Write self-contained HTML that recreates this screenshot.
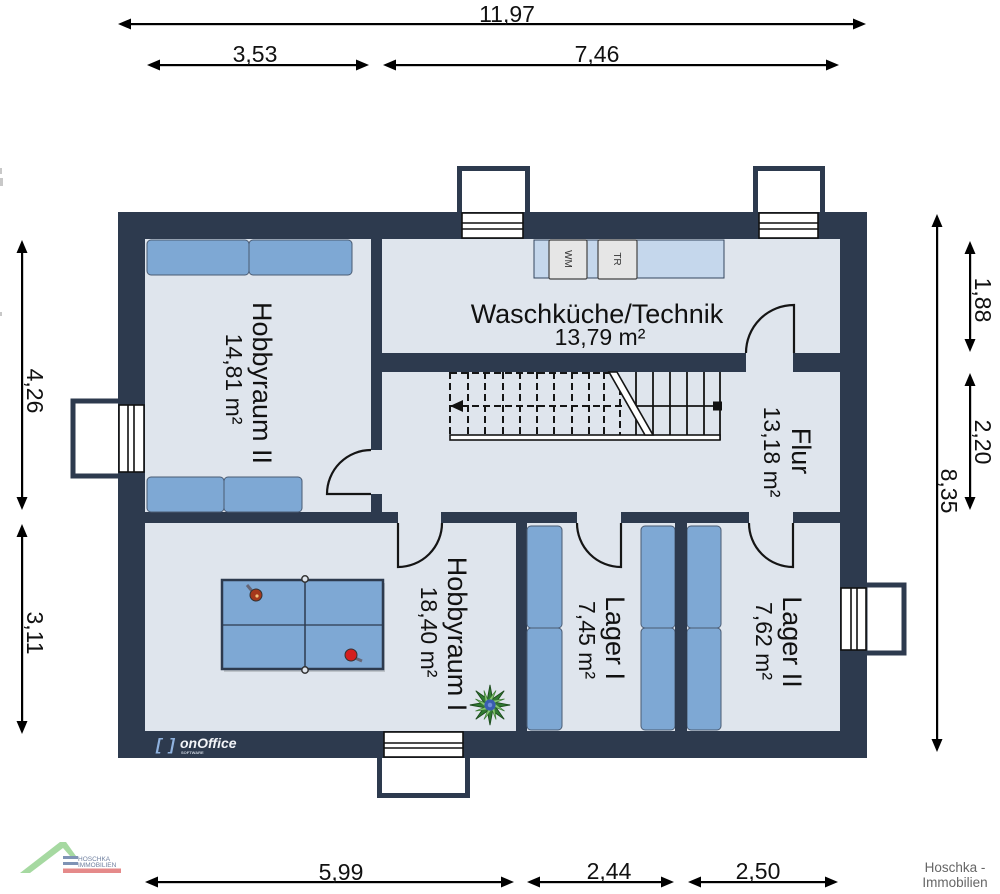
<!DOCTYPE html>
<html><head><meta charset="utf-8"><style>
html,body{margin:0;padding:0;background:#fff;}
svg{display:block;}
text{font-family:"Liberation Sans",Arial,sans-serif;}
</style></head><body>
<svg width="1000" height="894" viewBox="0 0 1000 894" xmlns="http://www.w3.org/2000/svg">

<!-- faint cut-off marks at left edge -->
<g fill="#c8c8c8">
  <rect x="0" y="168" width="2" height="6"/>
  <rect x="0" y="178" width="3" height="8"/>
  <rect x="0" y="312" width="2" height="4"/>
</g>

<!-- ===== Dimension lines ===== -->
<g fill="#000" stroke="none">
  <rect x="128" y="23" width="728" height="2.2"/>
  <polygon points="118,24 131,18.5 131,29.5"/><polygon points="866,24 853,18.5 853,29.5"/>
  <rect x="157" y="64" width="202" height="2.2"/>
  <polygon points="147,65 160,59.5 160,70.5"/><polygon points="369,65 356,59.5 356,70.5"/>
  <rect x="393" y="64" width="436" height="2.2"/>
  <polygon points="383,65 396,59.5 396,70.5"/><polygon points="839,65 826,59.5 826,70.5"/>
  <rect x="155" y="881" width="349" height="2.2"/>
  <polygon points="145,882 158,876.5 158,887.5"/><polygon points="514,882 501,876.5 501,887.5"/>
  <rect x="537" y="881" width="127" height="2.2"/>
  <polygon points="527,882 540,876.5 540,887.5"/><polygon points="674,882 661,876.5 661,887.5"/>
  <rect x="698" y="881" width="130" height="2.2"/>
  <polygon points="688,882 701,876.5 701,887.5"/><polygon points="838,882 825,876.5 825,887.5"/>
  <rect x="21" y="250" width="2.2" height="250"/>
  <polygon points="22,240 16.5,253 27.5,253"/><polygon points="22,510 16.5,497 27.5,497"/>
  <rect x="21" y="534" width="2.2" height="190"/>
  <polygon points="22,524 16.5,537 27.5,537"/><polygon points="22,734 16.5,721 27.5,721"/>
  <rect x="936" y="224" width="2.2" height="518"/>
  <polygon points="937,214 931.5,227 942.5,227"/><polygon points="937,752 931.5,739 942.5,739"/>
  <rect x="969" y="251" width="2.2" height="91"/>
  <polygon points="970,241 964.5,254 975.5,254"/><polygon points="970,352 964.5,339 975.5,339"/>
  <rect x="969" y="383" width="2.2" height="117"/>
  <polygon points="970,373 964.5,386 975.5,386"/><polygon points="970,510 964.5,497 975.5,497"/>
</g>
<g font-size="23" fill="#111" text-anchor="middle">
  <text x="507" y="22">11,97</text>
  <text x="255" y="62">3,53</text>
  <text x="597" y="62">7,46</text>
  <text x="341" y="880">5,99</text>
  <text x="609" y="879">2,44</text>
  <text x="758" y="879">2,50</text>
  <text transform="translate(27,391) rotate(90)">4,26</text>
  <text transform="translate(27,633) rotate(90)">3,11</text>
  <text transform="translate(941,491) rotate(90)">8,35</text>
  <text transform="translate(975,300) rotate(90)">1,88</text>
  <text transform="translate(975,442) rotate(90)">2,20</text>
</g>

<!-- ===== Outside window boxes ===== -->
<g fill="#fff" stroke="#2d3a4e" stroke-width="5">
  <rect x="459.5" y="168.5" width="68" height="46"/>
  <rect x="755.5" y="168.5" width="67" height="46"/>
  <rect x="73" y="401" width="48" height="75"/>
  <rect x="865" y="585" width="39" height="68"/>
  <rect x="379.5" y="755" width="88" height="40.5"/>
</g>

<!-- ===== Building walls ===== -->
<rect x="118" y="212" width="749" height="546" fill="#2d3a4e"/>

<!-- floors -->
<g fill="#dfe5ed">
  <rect x="145" y="239" width="226" height="273"/>
  <rect x="382" y="239" width="458" height="114"/>
  <rect x="382" y="372" width="458" height="140"/>
  <rect x="746" y="352" width="47" height="21"/>
  <rect x="370" y="450" width="13" height="44"/>
  <rect x="145" y="523" width="371" height="208"/>
  <rect x="398" y="511" width="43" height="13"/>
  <rect x="527" y="523" width="148" height="208"/>
  <rect x="577" y="511" width="44" height="13"/>
  <rect x="687" y="523" width="153" height="208"/>
  <rect x="749" y="511" width="44" height="13"/>
</g>

<!-- in-wall windows -->
<g fill="#fff" stroke="#111" stroke-width="1.6">
  <rect x="462" y="213" width="61" height="25"/>
  <line x1="462" y1="223" x2="523" y2="223"/><line x1="462" y1="229" x2="523" y2="229"/>
  <rect x="759" y="213" width="59" height="25"/>
  <line x1="759" y1="223" x2="818" y2="223"/><line x1="759" y1="229" x2="818" y2="229"/>
  <rect x="119" y="405" width="25" height="67"/>
  <line x1="128" y1="405" x2="128" y2="472"/><line x1="134" y1="405" x2="134" y2="472"/>
  <rect x="841" y="588" width="25" height="62"/>
  <line x1="851" y1="588" x2="851" y2="650"/><line x1="857" y1="588" x2="857" y2="650"/>
  <rect x="384" y="732" width="79" height="25"/>
  <line x1="384" y1="743" x2="463" y2="743"/><line x1="384" y1="748" x2="463" y2="748"/>
</g>

<!-- doors -->
<g fill="none" stroke="#151515" stroke-width="2.2">
  <path d="M746,353 A48,48 0 0 1 794,305 L794,353"/>
  <path d="M371,450 A44,44 0 0 0 327,494 L371,494"/>
  <path d="M398,523 L398,567 A44,44 0 0 0 442,523"/>
  <path d="M577,523 A44,44 0 0 0 621,567 L621,523"/>
  <path d="M749,523 A44,44 0 0 0 793,567 L793,523"/>
</g>

<!-- ===== Furniture ===== -->
<g fill="#7ea8d4" stroke="#4a5b72" stroke-width="1">
  <rect x="147" y="240" width="102" height="35" rx="4"/>
  <rect x="249" y="240" width="103" height="35" rx="4"/>
  <rect x="147" y="477" width="77" height="35" rx="4"/>
  <rect x="224" y="477" width="78" height="35" rx="4"/>
</g>
<g fill="#7ea8d4" stroke="#4a5b72" stroke-width="1">
  <rect x="527" y="526" width="35" height="102" rx="4"/>
  <rect x="527" y="628" width="35" height="102" rx="4"/>
  <rect x="641" y="526" width="34" height="102" rx="4"/>
  <rect x="641" y="628" width="34" height="102" rx="4"/>
  <rect x="687" y="526" width="34" height="102" rx="4"/>
  <rect x="687" y="628" width="34" height="102" rx="4"/>
</g>
<rect x="675" y="523" width="12" height="208" fill="#2d3a4e"/>

<!-- Waschküche counter -->
<rect x="534" y="240" width="190" height="38" fill="#c5d7ec" stroke="#34465e" stroke-width="1"/>
<rect x="549" y="240" width="38" height="39" fill="#e6e6e6" stroke="#444" stroke-width="1.2" rx="1.5"/>
<rect x="598" y="240" width="39" height="39" fill="#e6e6e6" stroke="#444" stroke-width="1.2" rx="1.5"/>
<g font-size="10" fill="#333" text-anchor="middle">
  <text transform="translate(565,259) rotate(90)">WM</text>
  <text transform="translate(614,259) rotate(90)">TR</text>
</g>

<!-- Stairs -->
<g stroke="#151515" fill="none">
  <g stroke-width="2" stroke-dasharray="7,4">
    <line x1="450" y1="373" x2="612" y2="373"/>
    <line x1="450" y1="406" x2="624" y2="406"/>
    <line x1="450" y1="372" x2="450" y2="435"/>
    <line x1="468" y1="372" x2="468" y2="435"/>
    <line x1="485" y1="372" x2="485" y2="435"/>
    <line x1="503" y1="372" x2="503" y2="435"/>
    <line x1="520" y1="372" x2="520" y2="435"/>
    <line x1="537" y1="372" x2="537" y2="435"/>
    <line x1="554" y1="372" x2="554" y2="435"/>
    <line x1="572" y1="372" x2="572" y2="435"/>
    <line x1="589" y1="372" x2="589" y2="435"/>
    <line x1="604" y1="372" x2="604" y2="435"/>
    <line x1="620" y1="388" x2="620" y2="435"/>
  </g>
  <g stroke-width="1.8">
    <line x1="630" y1="406" x2="720" y2="406"/>
    <line x1="636" y1="372" x2="636" y2="435"/>
    <line x1="653" y1="372" x2="653" y2="435"/>
    <line x1="670" y1="372" x2="670" y2="435"/>
    <line x1="687" y1="372" x2="687" y2="435"/>
    <line x1="704" y1="372" x2="704" y2="435"/>
    <line x1="720" y1="372" x2="720" y2="440"/>
  </g>
  <rect x="450" y="435" width="270" height="5" fill="#fff" stroke-width="1.6"/>
  <polygon points="609,372 617,372 653,435 645,435" fill="#fff" stroke-width="1.6"/>
</g>
<polygon points="450,406 463,400 463,412" fill="#111"/>
<rect x="713" y="401.5" width="9" height="9" fill="#111"/>

<!-- Ping pong table -->
<rect x="224" y="583" width="161" height="89" fill="#000" opacity="0.15"/>
<rect x="222" y="580" width="161" height="89" fill="#7ea8d4" stroke="#2d3a4e" stroke-width="2.5"/>
<line x1="305" y1="580" x2="305" y2="669" stroke="#2d3a4e" stroke-width="1.5"/>
<line x1="222" y1="625" x2="383" y2="625" stroke="#2d3a4e" stroke-width="1.2"/>
<circle cx="305" cy="579" r="3.2" fill="#dfe5ed" stroke="#333" stroke-width="1.5"/>
<circle cx="305" cy="670" r="3.2" fill="#dfe5ed" stroke="#333" stroke-width="1.5"/>
<line x1="252" y1="591" x2="247" y2="585" stroke="#667" stroke-width="3"/>
<circle cx="256" cy="595" r="6" fill="#a5381c" stroke="#333" stroke-width="1"/>
<circle cx="257" cy="596" r="1.6" fill="#f3c07a"/>
<line x1="355" y1="658" x2="362" y2="661" stroke="#667" stroke-width="3"/>
<circle cx="351" cy="655" r="6" fill="#d41e1e" stroke="#333" stroke-width="1"/>

<!-- Plant -->
<g transform="translate(490,705) scale(1.12)">
  <polygon points="18,0 5.5,2.3 12.7,12.7 2.3,5.5 0,18 -2.3,5.5 -12.7,12.7 -5.5,2.3 -18,0 -5.5,-2.3 -12.7,-12.7 -2.3,-5.5 0,-18 2.3,-5.5 12.7,-12.7 5.5,-2.3" fill="#2f7a32" stroke="#1c4a1c" stroke-width="0.8"/>
  <polygon points="13,5.4 4,1.7 5.4,13 1.7,4 -5.4,13 -1.7,4 -13,5.4 -4,1.7 -13,-5.4 -4,-1.7 -5.4,-13 -1.7,-4 5.4,-13 1.7,-4 13,-5.4 4,-1.7" fill="#86c870" stroke="#3b7a35" stroke-width="0.6"/>
  <circle r="5" fill="#3a5db0"/>
  <circle r="2" fill="#6f8fd8"/>
</g>

<!-- ===== Room labels ===== -->
<g fill="#111" text-anchor="middle">
  <text x="597" y="323" font-size="27">Waschküche/Technik</text>
  <text x="600" y="345" font-size="23">13,79 m²</text>

  <text transform="translate(253,383) rotate(90)" font-size="27">Hobbyraum II</text>
  <text transform="translate(226,379) rotate(90)" font-size="23">14,81 m²</text>

  <text transform="translate(448,634) rotate(90)" font-size="27">Hobbyraum I</text>
  <text transform="translate(421,632) rotate(90)" font-size="23">18,40 m²</text>

  <text transform="translate(606,638) rotate(90)" font-size="27">Lager I</text>
  <text transform="translate(579,640) rotate(90)" font-size="23">7,45 m²</text>

  <text transform="translate(783,642) rotate(90)" font-size="27">Lager II</text>
  <text transform="translate(756,641) rotate(90)" font-size="23">7,62 m²</text>

  <text transform="translate(792,451) rotate(90)" font-size="27">Flur</text>
  <text transform="translate(764,452) rotate(90)" font-size="23">13,18 m²</text>
</g>

<!-- onOffice logo -->
<g>
  <text x="156" y="750" font-size="17" font-weight="bold" font-style="italic" fill="#8fb2df">[</text>
  <text x="169" y="750" font-size="17" font-weight="bold" font-style="italic" fill="#8fb2df">]</text>
  <text x="180" y="748" font-size="14" font-weight="bold" font-style="italic" fill="#f2f4f8">onOffice</text>
  <text x="181" y="754" font-size="4" font-weight="bold" fill="#c8d0dc">SOFTWARE</text>
</g>

<!-- ===== Hoschka logo bottom-left ===== -->
<g>
  <polygon points="20,873 60,842 66,842 76,856 70,856 63,848 30,873" fill="#a6d9a1"/>
  <rect x="63" y="856" width="15" height="3" fill="#7f93b5"/>
  <rect x="63" y="862" width="15" height="3" fill="#7f93b5"/>
  <text x="78" y="861" font-size="6.5" fill="#6f7f9f">HOSCHKA</text>
  <text x="78" y="867" font-size="6.5" fill="#6f7f9f">IMMOBILIEN</text>
  <rect x="63" y="868.5" width="58" height="4.5" fill="#e58a8a"/>
</g>
<g font-size="13.5" fill="#666" text-anchor="middle">
  <text x="955" y="872">Hoschka -</text>
  <text x="955" y="887">Immobilien</text>
</g>

</svg>
</body></html>
